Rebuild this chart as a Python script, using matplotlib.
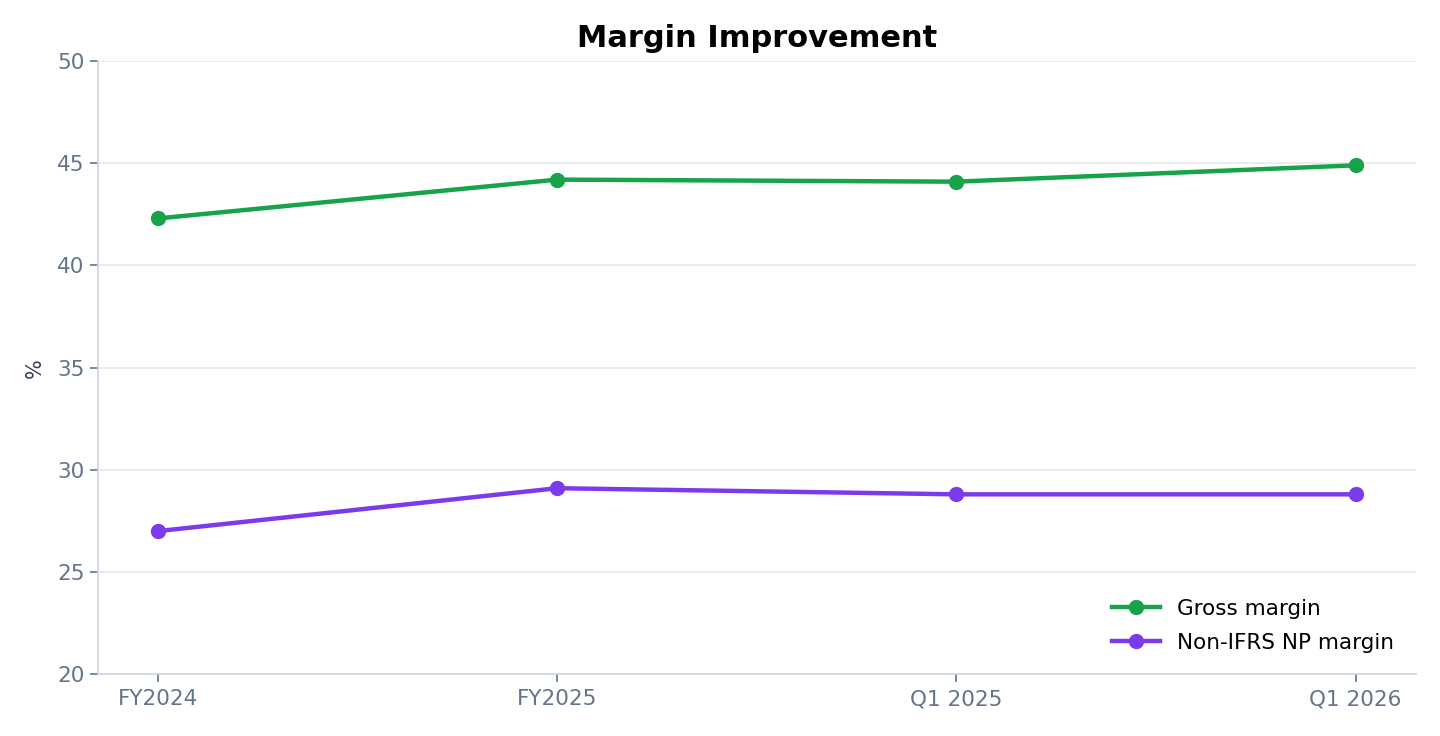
import matplotlib.pyplot as plt

periodos = ["FY2024", "FY2025", "Q1 2025", "Q1 2026"]
margen_bruto = [42.3, 44.2, 44.1, 44.9]
margen_np = [27.0, 29.1, 28.8, 28.8]

VERDE = "#16a34a"
MORADO = "#7c3aed"
GRIS_TXT = "#64748b"
GRIS_EJE = "#cbd5e1"

fig = plt.figure(figsize=(14.4, 7.36), dpi=100)
ax = fig.add_axes([0.068, 0.084, 0.915, 0.833])

x = range(len(periodos))
ax.plot(x, margen_bruto, color=VERDE, lw=3.2, marker="o", ms=10, label="Gross margin", zorder=3)
ax.plot(x, margen_np, color=MORADO, lw=3.2, marker="o", ms=10, label="Non-IFRS NP margin", zorder=3)

ax.set_xticks(list(x))
ax.set_xticklabels(periodos)
ax.set_ylim(20, 50)
ax.set_yticks(range(20, 51, 5))
ax.set_ylabel("%", fontsize=15, color="#334155", labelpad=9)
ax.set_title("Margin Improvement", fontsize=22, fontweight="bold", pad=10)

ax.grid(axis="y", color="#e5e7eb", lw=1.2)
ax.set_axisbelow(True)
for lado in ["top", "right"]:
    ax.spines[lado].set_visible(False)
for lado in ["left", "bottom"]:
    ax.spines[lado].set_color(GRIS_EJE)
    ax.spines[lado].set_linewidth(1.2)
ax.tick_params(colors=GRIS_TXT, labelsize=15.5, length=6, width=1.2)
ax.tick_params(axis="x", pad=5)

ax.legend(loc="lower right", frameon=False, fontsize=15.5, handlelength=2.2,
          borderaxespad=0.6, labelspacing=0.65)

fig.savefig("out.png", dpi=100)
